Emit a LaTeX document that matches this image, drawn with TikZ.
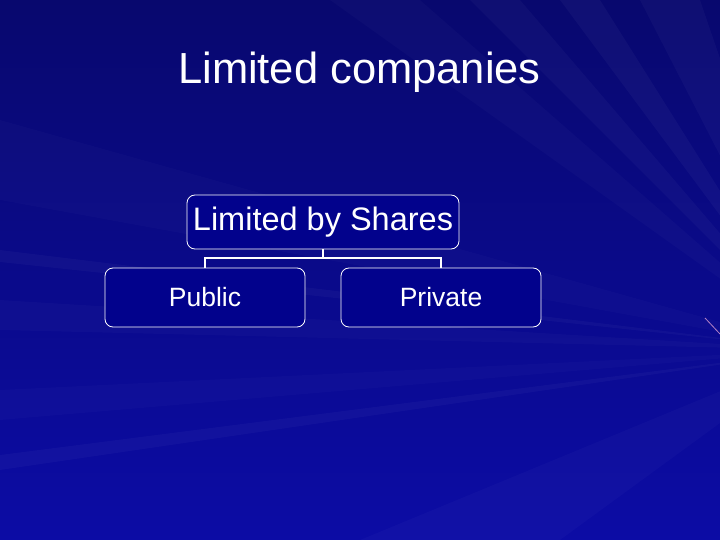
\documentclass[tikz,border=0pt]{standalone}
\usepackage{fontspec}
\setmainfont{Liberation Sans}
\definecolor{bgtop}{RGB}{8,8,110}
\definecolor{bgbot}{RGB}{12,12,165}
\definecolor{boxfill}{RGB}{2,2,140}
\tikzset{
  orgbox/.style={draw=white, line width=0.8pt, fill=boxfill, rounded corners=8pt, text=white, inner sep=0pt},
  link/.style={draw=white, line width=1.6pt},
  ray/.style={fill=white, opacity=#1},
}
\begin{document}
\begin{tikzpicture}[x=1pt,y=-1pt]
\useasboundingbox (0,0) rectangle (720,540);
% background
\shade[top color=bgtop, bottom color=bgbot] (0,0) rectangle (720,540);
\begin{scope}
\clip (0,0) rectangle (720,540);
\coordinate (F) at (820,350);
\fill[ray=0.025] (F) -- (330,0) -- (420,0) -- cycle;
\fill[ray=0.03] (F) -- (470,0) -- (520,0) -- cycle;
\fill[ray=0.035] (F) -- (560,0) -- (600,0) -- cycle;
\fill[ray=0.03] (F) -- (640,0) -- (700,0) -- cycle;
\fill[ray=0.02] (F) -- (0,120) -- (0,200) -- cycle;
\fill[ray=0.025] (F) -- (0,300) -- (0,330) -- cycle;
\fill[ray=0.02] (F) -- (0,390) -- (0,420) -- cycle;
\fill[ray=0.03] (F) -- (0,455) -- (0,470) -- cycle;
\fill[ray=0.025] (F) -- (360,540) -- (560,540) -- cycle;
\fill[ray=0.05] (F) -- (720,430) -- (720,460) -- cycle;
\fill[ray=0.03] (F) -- (0,250) -- (0,262) -- cycle;
\draw[white!70!magenta, opacity=0.7, line width=0.8pt] (705,318) -- (720,334);
\end{scope}
% title
\node[text=white, font=\fontsize{43.5}{50}\selectfont, anchor=base] (title) at (359.5,84) {Limited companies};
% boxes
\node[orgbox, minimum width=272pt, minimum height=54pt, font=\fontsize{32.5}{38}\selectfont] (top) at (323,222) {Limited by Shares};
\node[orgbox, minimum width=200pt, minimum height=59pt, font=\fontsize{26.5}{32}\selectfont] (pub) at (205,297.5) {Public};
\node[orgbox, minimum width=200pt, minimum height=59pt, font=\fontsize{26.5}{32}\selectfont] (pri) at (441,297.5) {Private};
% connectors
\coordinate (j) at (323,258);
\draw[link] (top.south) -- (j);
\draw[link] (pub.north) |- (j) -| (pri.north);
\end{tikzpicture}
\end{document}
